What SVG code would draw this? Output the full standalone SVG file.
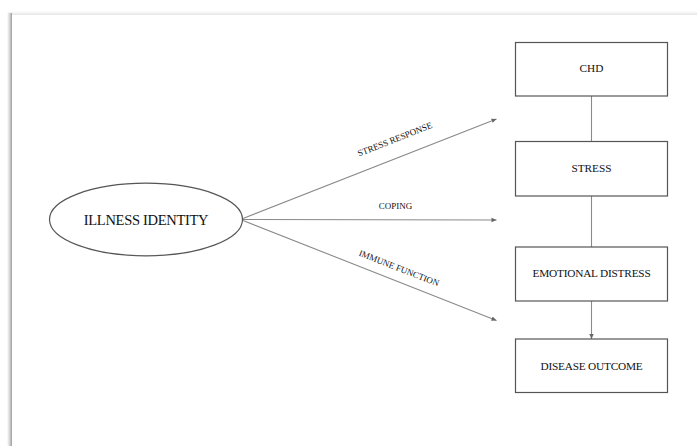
<svg xmlns="http://www.w3.org/2000/svg" width="697" height="446" viewBox="0 0 697 446">
  <defs>
    <marker id="ah" markerWidth="6" markerHeight="6" refX="5" refY="3" orient="auto" markerUnits="userSpaceOnUse">
      <path d="M0,0.8 L5,3 L0,5.2 Z" fill="#666"/>
    </marker>
    <linearGradient id="shl" x1="0" y1="0" x2="1" y2="0">
      <stop offset="0" stop-color="#fff"/>
      <stop offset="0.6" stop-color="#cfcfcf"/>
      <stop offset="1" stop-color="#9a9a9a"/>
    </linearGradient>
    <linearGradient id="sht" x1="0" y1="0" x2="0" y2="1">
      <stop offset="0" stop-color="#fff"/>
      <stop offset="1" stop-color="#e6e6e6"/>
    </linearGradient>
  </defs>
  <style>
    .box { fill: #fff; stroke: #555; stroke-width: 1.2; }
    .lbl { font-family: "Liberation Serif", "Times New Roman", serif; fill: #111; text-anchor: middle; }
    .nl { font-size: 11.3px; }
    .el { font-size: 9px; }
    .con { stroke: #8a8a8a; stroke-width: 1.1; fill: none; }
  </style>
  <rect x="0" y="0" width="697" height="446" fill="#fff"/>
  <rect x="8" y="11" width="689" height="4" fill="url(#sht)"/>
  <rect x="7" y="13" width="5" height="433" fill="url(#shl)"/>
  <rect x="12" y="15" width="685" height="431" fill="#fff"/>

  <g id="connectors">
    <line class="con" x1="243" y1="218.5" x2="496.5" y2="119" marker-end="url(#ah)"/>
    <line class="con" x1="243" y1="219.5" x2="496.5" y2="220" marker-end="url(#ah)"/>
    <line class="con" x1="243" y1="220.5" x2="496.5" y2="320.5" marker-end="url(#ah)"/>
    <line class="con" x1="591.5" y1="96" x2="591.5" y2="141"/>
    <line class="con" x1="591.5" y1="196" x2="591.5" y2="247"/>
    <line class="con" x1="591.5" y1="301" x2="591.5" y2="339" marker-end="url(#ah)"/>
    <text class="lbl el" font-family="Liberation Serif, serif" transform="translate(396,142) rotate(-21.5)">STRESS RESPONSE</text>
    <text class="lbl el" font-family="Liberation Serif, serif" x="395.5" y="209">COPING</text>
    <text class="lbl el" font-family="Liberation Serif, serif" transform="translate(398,271) rotate(21.3)">IMMUNE FUNCTION</text>
  </g>

  <g id="illness-identity">
    <ellipse cx="146" cy="219.5" rx="96.5" ry="36.3" fill="#fff" stroke="#555" stroke-width="1.2"/>
    <text class="lbl" font-family="Liberation Serif, serif" x="146" y="224.5" font-size="14.5" letter-spacing="-0.3">ILLNESS IDENTITY</text>
  </g>
  <g id="chd">
    <rect class="box" x="515.5" y="42.5" width="152" height="53.5"/>
    <text class="lbl nl" font-family="Liberation Serif, serif" x="591.5" y="71.5">CHD</text>
  </g>
  <g id="stress">
    <rect class="box" x="515.5" y="141.5" width="152" height="54.5"/>
    <text class="lbl nl" font-family="Liberation Serif, serif" x="591.5" y="172.3">STRESS</text>
  </g>
  <g id="emotional-distress">
    <rect class="box" x="515.5" y="247" width="152" height="54"/>
    <text class="lbl nl" font-family="Liberation Serif, serif" x="591.5" y="277.3" letter-spacing="-0.2">EMOTIONAL DISTRESS</text>
  </g>
  <g id="disease-outcome">
    <rect class="box" x="515.5" y="339" width="152" height="53.5"/>
    <text class="lbl nl" font-family="Liberation Serif, serif" x="591.5" y="369.7" letter-spacing="-0.2">DISEASE OUTCOME</text>
  </g>
</svg>
